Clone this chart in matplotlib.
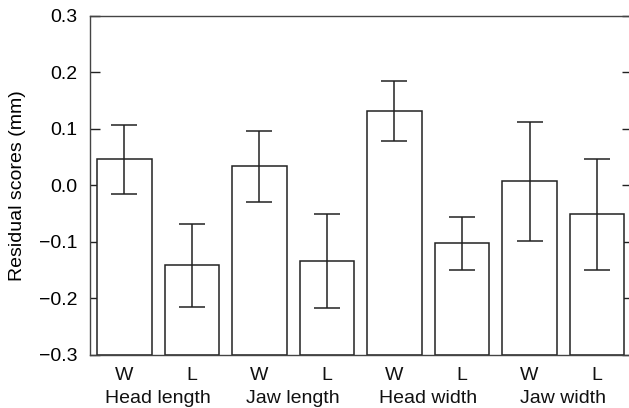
import matplotlib.pyplot as plt
import numpy as np

plt.rcParams['font.family'] = ['Liberation Sans', 'DejaVu Sans']

# data
groups = ["Head length", "Jaw length", "Head width", "Jaw width"]
sexes = ["W", "L", "W", "L", "W", "L", "W", "L"]
means = [0.046, -0.140, 0.034, -0.133, 0.132, -0.101, 0.008, -0.051]
err_hi = [0.107, -0.068, 0.097, -0.050, 0.185, -0.055, 0.113, 0.047]
err_lo = [-0.016, -0.215, -0.030, -0.217, 0.079, -0.150, -0.099, -0.149]

base = -0.3
col = "#222222"
fs = 14

fig = plt.figure(figsize=(6.29, 4.08), dpi=100)
ax = fig.add_axes([0.143, 0.130, 0.862, 0.831])

x = np.arange(len(means))
m = np.array(means)
heights = m - base
ax.bar(x, heights, bottom=base, width=0.81, color="white", edgecolor=col, linewidth=1.1, zorder=2)
yerr = np.vstack([m - np.array(err_lo), np.array(err_hi) - m])
ax.errorbar(x, m, yerr=yerr, fmt="none", ecolor=col, elinewidth=1.1, capsize=9.5, capthick=1.1, zorder=3)

ax.set_xlim(-0.51, 7.52)
ax.set_ylim(-0.3, 0.3)
ax.set_yticks([-0.3, -0.2, -0.1, 0.0, 0.1, 0.2, 0.3])
ax.set_yticklabels(["\u22120.3", "\u22120.2", "\u22120.1", "0.0", "0.1", "0.2", "0.3"], fontsize=fs)
ax.tick_params(axis="y", direction="in", length=7, width=1, color=col, right=True, pad=9)
ax.set_xticks([])
for s in ax.spines.values():
    s.set_color("#444444")
    s.set_linewidth(1.0)

ax.set_ylabel("Residual scores (mm)", fontsize=fs, labelpad=9)

for i, s in enumerate(sexes):
    ax.text(x[i], -0.3 - 0.0442, s, ha="center", va="baseline", fontsize=fs, color="#111111")
for j, g in enumerate(groups):
    ax.text(2 * j + 0.5, -0.3 - 0.0858, g, ha="center", va="baseline", fontsize=fs, color="#111111")

fig.savefig("out.png", dpi=100)
